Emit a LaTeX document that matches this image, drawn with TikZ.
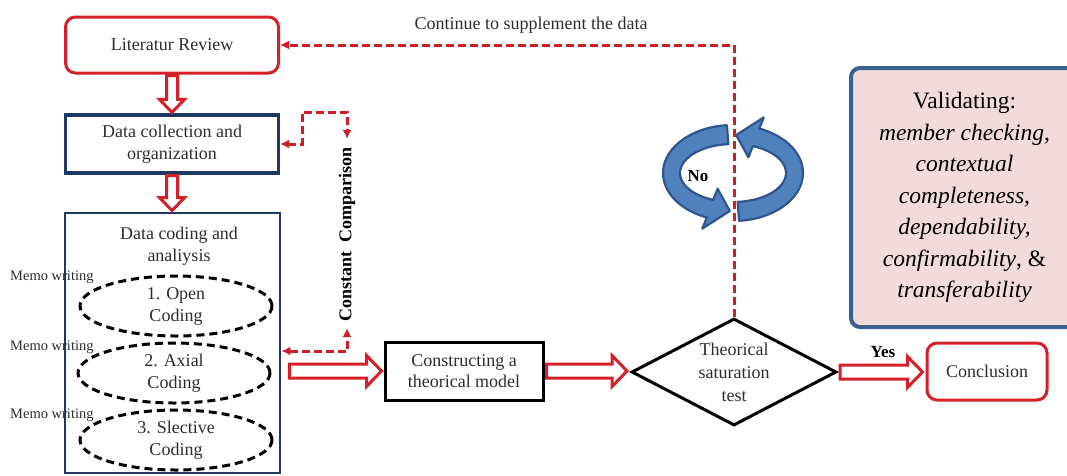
\documentclass[tikz,border=0pt]{standalone}
\usepackage{fontspec}
\setmainfont{Liberation Serif}
\usetikzlibrary{calc,shapes.geometric,arrows.meta}
\definecolor{redc}{RGB}{214,32,39}
\definecolor{dashred}{RGB}{206,30,40}
\definecolor{navyc}{RGB}{31,56,100}
\definecolor{txtc}{RGB}{45,45,45}
\definecolor{bluefill}{RGB}{79,129,189}
\definecolor{blueedge}{RGB}{47,85,145}
\definecolor{pinkc}{RGB}{242,220,219}
\definecolor{valedge}{RGB}{59,95,143}
\newcommand\harr[2]{\draw[blockarr] let \p1=(#1), \p2=(#2) in
  (\x1,\y1+7) -- (\x2-15,\y1+7) -- (\x2-15,\y1+15.5) -- (\x2,\y1) --
  (\x2-15,\y1-15.5) -- (\x2-15,\y1-7) -- (\x1,\y1-7) -- cycle;}
\newcommand\varr[2]{\draw[blockarr] let \p1=(#1), \p2=(#2) in
  (\x1-5.5,\y1) -- (\x1-5.5,\y2+13) -- (\x1-12.5,\y2+13) -- (\x1,\y2) --
  (\x1+12.5,\y2+13) -- (\x1+5.5,\y2+13) -- (\x1+5.5,\y1) -- cycle;}
\begin{document}
\begin{tikzpicture}[x=1pt,y=-1pt,
  >={Latex[length=9pt,width=9pt]},
  maintxt/.style={font=\fontsize{18}{22}\selectfont, text=txtc, align=center},
  redbox/.style={maintxt, draw=redc, line width=3pt, rounded corners=10pt, inner sep=0pt},
  navybox/.style={maintxt, draw=navyc, line width=3.2pt, inner sep=0pt},
  blackbox/.style={maintxt, draw=black, line width=3pt, inner sep=0pt},
  dashell/.style={ellipse, draw=black, line width=3pt, dash pattern=on 8pt off 5pt, inner sep=0pt, maintxt},
  memo/.style={font=\fontsize{14.5}{17}\selectfont, text=txtc, anchor=west, inner sep=0pt},
  blockarr/.style={draw=redc, fill=white, line width=3pt, line join=miter},
  dashloop/.style={draw=dashred, line width=3pt, dash pattern=on 8pt off 4pt},
  bluearr/.style={fill=bluefill, draw=blueedge, line width=2.2pt, line join=round},
  boldlab/.style={font=\bfseries\fontsize{17}{20}\selectfont, text=black, inner sep=0pt}
]
\useasboundingbox (0,0) rectangle (1067,475);
\clip (0,0) rectangle (1067,475);

% left column
\node[redbox, minimum width=213, minimum height=56] (lr) at (172,45) {Literatur Review};
\node[navybox, minimum width=213, minimum height=58] (dc) at (172,144) {Data collection and\\organization};
\node[navybox, line width=2.8pt, minimum width=215, minimum height=260] (dca) at (172.5,343) {};
\node[maintxt] (dcat) at (179,246) {Data coding and\\analiysis};
\node[dashell, minimum width=192, minimum height=60] (e1) at (176,306) {1. Open\\Coding};
\node[dashell, minimum width=192, minimum height=60] (e2) at (174,373) {2. Axial\\Coding};
\node[dashell, minimum width=192, minimum height=60] (e3) at (176,440) {3. Slective\\Coding};
\node[memo] (m1) at (10,277) {Memo writing};
\node[memo] (m2) at (10,347) {Memo writing};
\node[memo] (m3) at (10,415) {Memo writing};

\varr{$(lr.south)+(0,1)$}{$(dc.north)+(0,-1)$}
\varr{$(dc.south)+(0,1)$}{$(dca.north)+(0,-1)$}

% constant comparison
\coordinate (cct1) at (302,112);
\coordinate (cct2) at (347,112);
\coordinate (cctop) at (347,139);
\coordinate (ccb1) at (347,351);
\coordinate (ccbot) at (347,328);
\node[boldlab, rotate=90, font=\bfseries\fontsize{18}{20}\selectfont] (cc) at (347,234) {Constant\ \ Comparison};
\draw[dashloop, <->] (dc.east) -- (dc.east -| cct1) -- (cct1) -- (cct2) -- (cctop);
\draw[dashloop, <->] (dca.east |- ccb1) -- (ccb1) -- (ccbot);

% middle row
\node[blackbox, minimum width=158, minimum height=58, font=\fontsize{18}{21}\selectfont] (cm) at (464,371) {Constructing a\\theorical model};
\node[diamond, draw=black, line width=3pt, minimum width=205, minimum height=107, inner sep=0pt] (dia) at (734,372) {};
\node[maintxt, font=\fontsize{18}{23}\selectfont] (diat) at (dia.center) {Theorical\\saturation\\test};
\node[redbox, minimum width=120, minimum height=57] (con) at (987,371.5) {Conclusion};

\harr{$(dca.east |- cm.west)+(8,0)$}{$(cm.west)+(-2,0)$}
\harr{$(cm.east)+(2,0)$}{$(dia.west)+(-3,0)$}
\harr{$(dia.east)+(2,0)$}{$(con.west)+(-3,0)$}
\node[boldlab] (yes) at (883,352) {Yes};

% blue circular arrows
\coordinate (cir) at (733,173);
\filldraw[bluearr] ($(cir)+(265:70 and 48)$) arc[start angle=265, end angle=112, x radius=70, y radius=48]
  -- ($(cir)+(112:82 and 60)$) -- ($(cir)+(93:61 and 38)$) -- ($(cir)+(112:41 and 17)$)
  -- ($(cir)+(112:53 and 29)$) arc[start angle=112, end angle=265, x radius=53, y radius=29] -- cycle;
\filldraw[bluearr] ($(cir)+(85:70 and 48)$) arc[start angle=85, end angle=-68, x radius=70, y radius=48]
  -- ($(cir)+(-68:82 and 60)$) -- ($(cir)+(-87:61 and 38)$) -- ($(cir)+(-68:41 and 17)$)
  -- ($(cir)+(-68:53 and 29)$) arc[start angle=-68, end angle=85, x radius=53, y radius=29] -- cycle;
\node[boldlab] (no) at (698,176) {No};

% feedback loop
\coordinate (topc) at (dia.north |- lr.east);
\draw[dashloop, ->] (dia.north) -- (topc) -- (lr.east);
\node[maintxt] (cont) at (531,25) {Continue to supplement the data};

% validating box
\node[draw=valedge, fill=pinkc, line width=4pt, rounded corners=9pt, minimum width=227, minimum height=259,
  inner sep=0pt, align=center, text=black, font=\fontsize{23.5}{31.5}\selectfont] (val) at (964.5,197.5)
  {Validating:\\\textit{member checking},\\\textit{contextual}\\\textit{completeness,}\\\textit{dependability,}\\\textit{confirmability}, \&\\\textit{transferability}};
\end{tikzpicture}
\end{document}
